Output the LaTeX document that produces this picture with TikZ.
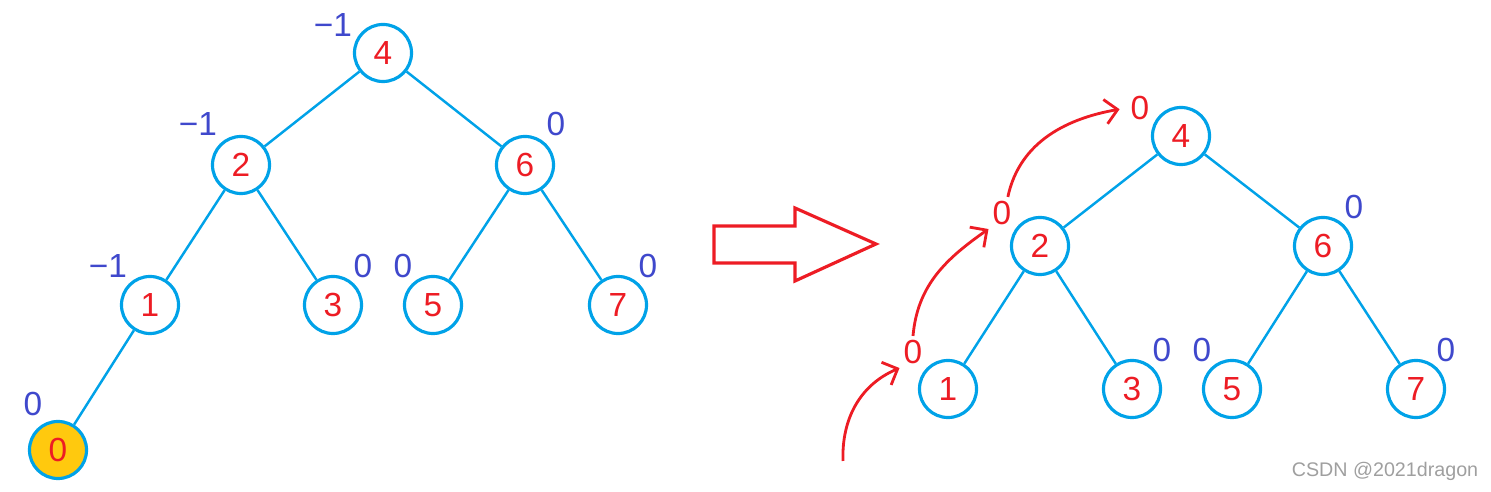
\documentclass[tikz,border=0pt]{standalone}
\usepackage{fontspec}
\setmainfont{Liberation Sans}
\definecolor{treeblue}{RGB}{0,162,232}
\definecolor{keyred}{RGB}{237,28,36}
\definecolor{bfindigo}{RGB}{63,72,204}
\definecolor{newyellow}{RGB}{255,201,14}
\usetikzlibrary{arrows.meta}

\begin{document}
\begin{tikzpicture}[x=0.01cm, y=0.01cm,
    key/.style={circle, draw=treeblue, line width=0.9pt, minimum size=0.57cm,
                inner sep=0pt, text=keyred, font=\fontsize{9.5}{9.5}\selectfont},
    bf/.style={text=bfindigo, inner sep=1pt, font=\fontsize{9.5}{9.5}\selectfont},
    nbf/.style={text=keyred, inner sep=1pt, font=\fontsize{9.5}{9.5}\selectfont},
    edge/.style={treeblue, line width=0.7pt},
    fix/.style={keyred, line width=0.8pt,
                -{Straight Barb[length=3.5pt, width=7pt]}}]
    \useasboundingbox (0,0) rectangle (1491,-492);

    % Left tree: after inserting 0
    \node[key] (l4) at (383,-53)  {4};
    \node[key] (l2) at (241,-165) {2};
    \node[key] (l6) at (525,-165) {6};
    \node[key] (l1) at (150,-305) {1};
    \node[key] (l3) at (333,-305) {3};
    \node[key] (l5) at (433,-305) {5};
    \node[key] (l7) at (618,-305) {7};
    \node[key, fill=newyellow] (l0) at (58,-450) {0};
    \foreach \a/\b in {l4/l2, l4/l6, l2/l1, l2/l3, l6/l5, l6/l7, l1/l0}
      \draw[edge] (\a) -- (\b);

    % balance factors (left)
    \node[bf] (la4) at (333,-25)  {−1};
    \node[bf] (la2) at (198,-124) {−1};
    \node[bf] (la6) at (556,-124) {0};
    \node[bf] (la1) at (108,-266) {−1};
    \node[bf] (la3) at (363,-266) {0};
    \node[bf] (la5) at (403,-266) {0};
    \node[bf] (la7) at (648,-266) {0};
    \node[bf] (la0) at (33,-404)  {0};

    % Block arrow
    \draw[keyred, line width=0.9pt]
      (714,-226) -- (795,-226) -- (795,-208) -- (876,-244)
      -- (795,-281) -- (795,-263) -- (714,-263) -- cycle;

    % Right tree: after rotation
    \node[key] (r4) at (1181,-136) {4};
    \node[key] (r2) at (1040,-246) {2};
    \node[key] (r6) at (1323,-246) {6};
    \node[key] (r1) at (948,-389)  {1};
    \node[key] (r3) at (1132,-389) {3};
    \node[key] (r5) at (1232,-389) {5};
    \node[key] (r7) at (1416,-389) {7};
    \foreach \a/\b in {r4/r2, r4/r6, r2/r1, r2/r3, r6/r5, r6/r7}
      \draw[edge] (\a) -- (\b);

    % balance factors (right)
    \node[nbf] (ra4) at (1140,-108) {0};
    \node[nbf] (ra2) at (1002,-213) {0};
    \node[nbf] (ra1) at (913,-352)  {0};
    \node[bf]  (ra6) at (1354,-207) {0};
    \node[bf]  (ra3) at (1162,-350) {0};
    \node[bf]  (ra5) at (1202,-350) {0};
    \node[bf]  (ra7) at (1446,-350) {0};

    % Update path
    \coordinate (upd) at (843,-461);
    \draw[fix] (upd) to[out=92, in=203] (ra1.south west);
    \draw[fix] (ra1.north) to[out=85, in=215] (ra2.south west);
    \draw[fix, shorten >=2pt] (ra2.70) to[out=78, in=190] (ra4.west);

    \node[text=gray!75, font=\fontsize{5.6}{6}\selectfont] (mark) at (1385,-471)
      {CSDN @2021dragon};
\end{tikzpicture}
\end{document}
